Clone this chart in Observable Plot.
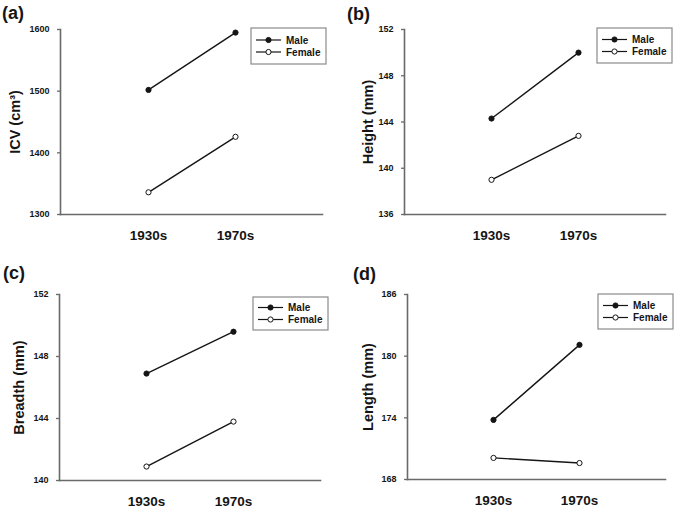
<!DOCTYPE html>
<html>
<head>
<meta charset="utf-8">
<script src="https://cdn.jsdelivr.net/npm/d3@7"></script>
<script src="https://cdn.jsdelivr.net/npm/@observablehq/plot@0.6"></script>
<style>
  html, body { margin: 0; padding: 0; background: #fff; }
  #root { position: relative; width: 679px; height: 511px; background: #fff; font-family: "Liberation Sans", Arial, sans-serif; }
  .panel { position: absolute; }
  .panel svg { display: block; }
  g[aria-label="y-axis label"] { font-size: 14.5px; font-weight: bold; }
</style>
</head>
<body>
<div id="root"></div>
<script>
// ---- data ----
const periods = ["1930s", "1970s"];
const sexes = ["Male", "Female"];

const icvMale = [1502, 1595];
const icvFemale = [1336, 1426];
const icvTicks = [1300, 1400, 1500, 1600];

const heightMale = [144.3, 150.0];
const heightFemale = [139.0, 142.8];
const heightTicks = [136, 140, 144, 148, 152];

const breadthMale = [146.9, 149.6];
const breadthFemale = [140.9, 143.8];
const breadthTicks = [140, 144, 148, 152];

const lengthMale = [173.8, 181.1];
const lengthFemale = [170.1, 169.6];
const lengthTicks = [168, 174, 180, 186];

const panelLetters = ["(a)", "(b)", "(c)", "(d)"];
const panelLabels = ["ICV (cm³)", "Height (mm)", "Breadth (mm)", "Length (mm)"];

// ---- layout ----
const layouts = [
  {cls: "a", left: 0,   top: 0,   width: 340, ml: 60, mr: 18, mt: 29, mb: 42, labelOffset: 51, legend: [251, 28, 75, 36], letter: [2, 19]},
  {cls: "b", left: 340, top: 0,   width: 339, ml: 64, mr: 14, mt: 29, mb: 42, labelOffset: 42, legend: [257, 28, 75, 35], letter: [7, 20]},
  {cls: "c", left: 0,   top: 255, width: 340, ml: 59, mr: 20, mt: 39, mb: 31, labelOffset: 46, legend: [253, 42, 75, 33], letter: [3, 24]},
  {cls: "d", left: 340, top: 255, width: 339, ml: 67, mr: 14, mt: 39, mb: 32, labelOffset: 45, legend: [258, 39, 75, 35], letter: [13, 25]}
];

const series = [
  [icvMale, icvFemale, icvTicks],
  [heightMale, heightFemale, heightTicks],
  [breadthMale, breadthFemale, breadthTicks],
  [lengthMale, lengthFemale, lengthTicks]
];

const ink = "#151515";
const axisColor = "#6a6a6a";
const root = document.getElementById("root");

series.forEach(([male, female, ticks], i) => {
  const L = layouts[i];
  const rows = [];
  periods.forEach((p, j) => rows.push({period: p, sex: "Male", value: male[j]}));
  periods.forEach((p, j) => rows.push({period: p, sex: "Female", value: female[j]}));

  const chart = Plot.plot({
    width: L.width,
    height: 256,
    marginLeft: L.ml,
    marginRight: L.mr,
    marginTop: L.mt,
    marginBottom: L.mb,
    style: {fontFamily: '"Liberation Sans", Arial, sans-serif', background: "#fff", color: ink, overflow: "visible"},
    x: {type: "point", domain: periods, padding: 1},
    y: {domain: [ticks[0], ticks[ticks.length - 1]]},
    marks: [
      Plot.frame({anchor: "bottom", stroke: axisColor, strokeWidth: 1.6}),
      Plot.frame({anchor: "left", stroke: axisColor, strokeWidth: 1.6}),
      Plot.axisY({
        ticks, tickSize: 3, tickPadding: 8, tickFormat: d => String(d), stroke: axisColor, strokeWidth: 1.3,
        fontSize: 9, fontWeight: "bold", fill: ink,
        label: panelLabels[i], labelAnchor: "center", labelArrow: "none", labelOffset: L.labelOffset
      }),
      Plot.axisX({tickSize: 0, tickPadding: 16, fontSize: 13.5, fontWeight: "bold", fill: ink, label: null}),
      Plot.line(rows, {x: "period", y: "value", z: "sex", stroke: ink, strokeWidth: 1.4}),
      Plot.dot(rows, {filter: d => d.sex === "Male", x: "period", y: "value", r: 2.6, fill: ink, stroke: ink, strokeWidth: 1}),
      Plot.dot(rows, {filter: d => d.sex === "Female", x: "period", y: "value", r: 2.6, fill: "#fff", stroke: ink, strokeWidth: 1})
    ]
  });

  const div = document.createElement("div");
  div.className = "panel " + L.cls;
  div.style.left = L.left + "px";
  div.style.top = L.top + "px";
  div.appendChild(chart);
  root.appendChild(div);

  const svg = d3.select(chart);
  // panel letter
  svg.append("text")
    .attr("x", L.letter[0]).attr("y", L.letter[1])
    .attr("text-anchor", "start")
    .attr("font-size", 18).attr("font-weight", "bold").attr("fill", ink)
    .attr("font-family", '"Liberation Sans", Arial, sans-serif')
    .text(panelLetters[i]);

  // legend
  const [lx, ly, lw, lh] = L.legend;
  const g = svg.append("g").attr("transform", `translate(${lx},${ly})`);
  g.append("rect").attr("x", 0).attr("y", 0).attr("width", lw).attr("height", lh)
    .attr("fill", "#fff").attr("stroke", "#8a8a8a").attr("stroke-width", 1.2);
  sexes.forEach((s, k) => {
    const yy = lh / 2 - 6 + k * 12;
    g.append("line").attr("x1", 5).attr("x2", 30).attr("y1", yy).attr("y2", yy)
      .attr("stroke", ink).attr("stroke-width", 1.2);
    g.append("circle").attr("cx", 17.5).attr("cy", yy).attr("r", 2.6)
      .attr("fill", s === "Male" ? ink : "#fff").attr("stroke", ink).attr("stroke-width", 1);
    g.append("text").attr("x", 35).attr("y", yy).attr("dy", "0.35em")
      .attr("text-anchor", "start")
      .attr("font-size", 10).attr("font-weight", "bold").attr("fill", ink)
      .attr("font-family", '"Liberation Sans", Arial, sans-serif')
      .text(s);
  });
});
</script>
</body>
</html>
